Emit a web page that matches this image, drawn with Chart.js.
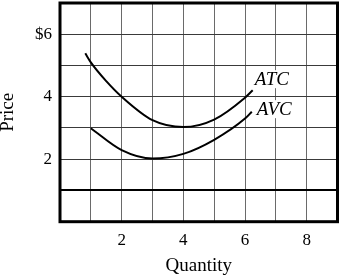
<!DOCTYPE html>
<html>
<head>
<meta charset="utf-8">
<script src="https://cdn.jsdelivr.net/npm/chart.js@4/dist/chart.umd.min.js"></script>
<style>
html,body{margin:0;padding:0;background:#fff;}
#wrap{width:340px;height:280px;position:relative;}
</style>
</head>
<body>
<div id="wrap"><canvas id="c" width="340" height="280"></canvas></div>
<script>
// Data
const atcQ = [0.82, 1, 1.5, 2, 3, 4, 5, 6, 6.25];
const atcP = [5.39, 5.1, 4.5, 4.0, 3.25, 3.03, 3.27, 3.97, 4.21];
const avcQ = [1.0, 2, 3, 4, 5, 6, 6.22];
const avcP = [2.99, 2.29, 2.02, 2.17, 2.62, 3.3, 3.52];
const xTickLabels = {2: '2', 4: '4', 6: '6', 8: '8'};
const yTickLabels = {2: '2', 4: '4', 6: '$6'};
const curveNames = ['ATC', 'AVC'];
const curveLabelQ = [6.32, 6.38];
const curveLabelP = [4.37, 3.41];

const toPts = (xs, ys) => xs.map((x, i) => ({x: x, y: ys[i]}));

const serif = '"Liberation Serif", "Times New Roman", serif';

const framePlugin = {
  id: 'frame',
  afterDatasetsDraw(chart) {
    const {ctx, chartArea: a, scales} = chart;
    ctx.save();
    ctx.font = 'italic 19px ' + serif;
    ctx.textBaseline = 'alphabetic';
    ctx.textAlign = 'left';
    curveNames.forEach((t, i) => {
      const px = scales.x.getPixelForValue(curveLabelQ[i]);
      const py = scales.y.getPixelForValue(curveLabelP[i]);
      const w = ctx.measureText(t).width;
      ctx.fillStyle = '#fff';
      ctx.fillRect(px - 1, py - 15, w + 2, 18);
      ctx.fillStyle = '#000';
      ctx.fillText(t, px, py);
    });
    ctx.strokeStyle = '#000';
    ctx.lineWidth = 3;
    ctx.strokeRect(a.left, a.top, a.right - a.left, a.bottom - a.top);
    ctx.restore();
  }
};

new Chart(document.getElementById('c'), {
  type: 'scatter',
  data: {
    datasets: [
      {label: 'ATC', data: toPts(atcQ, atcP)},
      {label: 'AVC', data: toPts(avcQ, avcP)}
    ]
  },
  options: {
    responsive: false,
    animation: false,
    showLine: true,
    layout: {padding: {top: 3, right: 2.5, left: 0, bottom: 0}},
    elements: {
      point: {radius: 0, hoverRadius: 0},
      line: {borderColor: '#000', borderWidth: 2, cubicInterpolationMode: 'monotone', fill: false}
    },
    plugins: {legend: {display: false}, tooltip: {enabled: false}},
    scales: {
      x: {
        type: 'linear', min: 0, max: 9,
        border: {display: false},
        grid: {color: '#6a6a6a', lineWidth: 1, drawTicks: false},
        ticks: {
          stepSize: 1, autoSkip: false, maxRotation: 0, padding: 9,
          color: '#000', font: {family: serif, size: 17},
          callback: v => xTickLabels[v] || ''
        },
        title: {display: true, text: 'Quantity', color: '#000',
          font: {family: serif, size: 19, lineHeight: 1}, padding: {top: 0, bottom: 4}},
        afterFit: s => { s.height = 58.3; s.paddingLeft = 0; s.paddingRight = 0; }
      },
      y: {
        type: 'linear', min: 0, max: 7,
        border: {display: false},
        grid: {
          color: ctx => (ctx.tick && ctx.tick.value === 1) ? '#000' : '#3a3a3a',
          lineWidth: ctx => (ctx.tick && ctx.tick.value === 1) ? 2 : 1,
          drawTicks: false
        },
        ticks: {
          stepSize: 1, autoSkip: false, padding: 8,
          color: '#000', font: {family: serif, size: 17},
          callback: v => yTickLabels[v] || ''
        },
        title: {display: true, text: 'Price', color: '#000',
          font: {family: serif, size: 19, lineHeight: 1}, padding: {top: -1, bottom: 0}},
        afterFit: s => { s.width = 60; s.paddingTop = 0; s.paddingBottom = 0; }
      }
    }
  },
  plugins: [framePlugin]
});
</script>
</body>
</html>
